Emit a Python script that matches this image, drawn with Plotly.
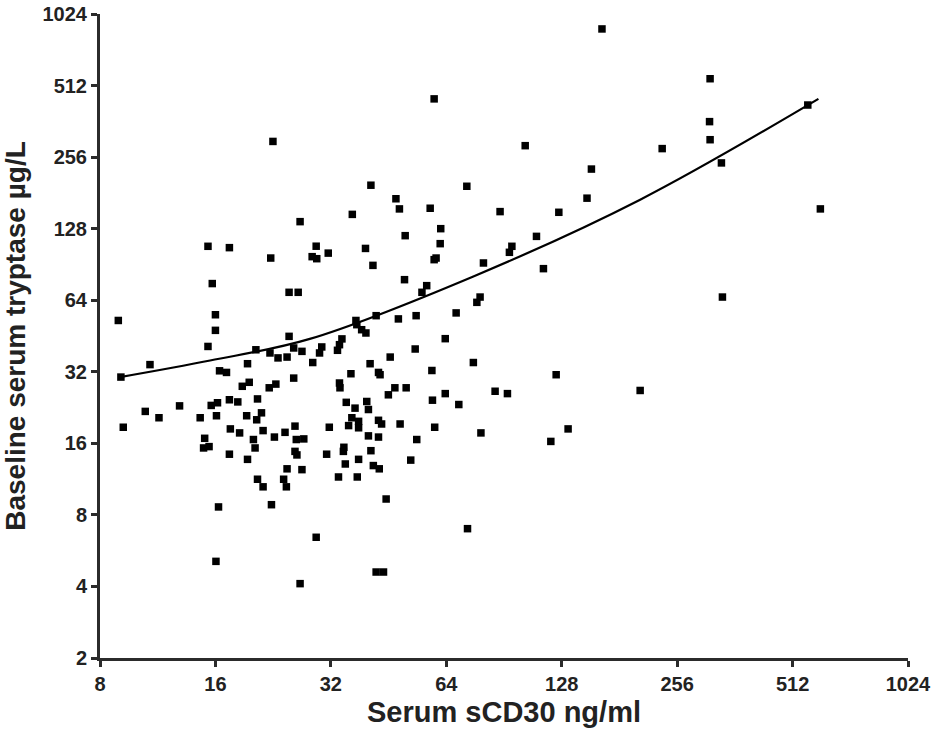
import plotly.graph_objects as go

# Serum sCD30 (ng/ml) values
scd30 = [8.93, 9.07, 10.8, 9.2, 10.5, 11.4, 12.9, 14.6, 15.0, 14.9, 15.4, 15.3, 15.3, 15.7, 16.0, 16.0,
         17.4, 16.4, 17.1, 15.6, 16.2, 16.1, 17.4, 18.3, 17.5, 18.5, 17.4, 19.4, 19.3, 18.8, 19.6, 19.4,
         20.4, 20.6, 21.1, 20.5, 21.3, 20.1, 20.3, 20.6, 21.3, 22.3, 22.2, 23.0, 22.1, 22.8, 24.3, 24.9,
         25.6, 26.9, 23.3, 24.6, 25.6, 24.9, 26.3, 25.8, 26.0, 27.2, 25.8, 26.1, 24.6, 26.9, 24.1, 24.5,
         28.6, 29.4, 29.3, 22.6, 26.6, 16.3, 16.05, 22.4, 26.6, 29.3, 44.6, 72.7, 42.0, 43.9, 33.5, 37.5,
         163, 59.5, 102.8, 153, 149, 40.7, 72.4, 47.3, 48.3, 58.1, 88.4, 125.8, 36.4, 61.9, 50.0, 110,
         39.4, 61.7, 94.9, 93.5, 31.5, 41.2, 59.5, 60.2, 80.0, 114.7, 49.8, 56.9, 55.3, 78.4, 76.9, 67.9,
         63.6, 75.3, 53.4, 48.0, 42.0, 37.2, 37.4, 38.5, 39.5, 34.2, 33.7, 33.3, 30.3, 29.9, 28.7, 45.7,
         53.1, 40.5, 42.6, 43.0, 36.1, 58.7, 33.7, 33.8, 47.0, 50.3, 45.2, 63.6, 58.9, 69.0, 85.8, 92.4,
         123.8, 35.1, 37.0, 39.7, 40.1, 36.3, 35.6, 37.8, 37.8, 42.6, 43.4, 31.7, 48.5, 59.7, 78.8, 133,
         119.9, 40.1, 42.6, 53.6, 34.6, 34.5, 31.2, 40.7, 37.8, 34.9, 41.3, 42.8, 51.7, 312, 311, 312,
         234, 334, 561, 605, 336, 205]

# Baseline serum tryptase (µg/L) values
tryptase = [52.6, 30.4, 34.3, 18.7, 21.8, 20.5, 23.0, 20.5, 16.8, 15.3, 15.5, 40.9, 107.9, 75.2, 55.6, 47.8,
            106.5, 32.3, 31.8, 23.1, 23.7, 20.9, 24.4, 23.9, 18.4, 17.7, 14.4, 13.7, 20.9, 27.8, 28.9, 34.6,
            39.6, 24.6, 21.5, 20.1, 18.1, 16.6, 15.3, 11.3, 10.5, 96.3, 38.4, 28.4, 27.4, 17.0, 17.8, 45.1,
            40.3, 39.0, 36.6, 36.9, 30.1, 69.1, 69.1, 18.9, 16.6, 16.7, 14.8, 14.3, 12.5, 12.4, 11.3, 10.5,
            97.6, 95.7, 108, 298, 137, 8.64, 5.10, 8.83, 4.11, 6.44, 9.33, 7.0, 4.60, 4.60, 11.55, 11.55,
            886, 450, 286, 228, 172, 195, 193, 171, 155, 156, 151, 150, 147, 128, 119.6, 118.8,
            105.7, 110.7, 107.9, 101.8, 101, 89.7, 94.8, 96.3, 91.8, 86.9, 78.1, 73.7, 69.1, 66.0, 62.7, 56.6,
            44.1, 35.0, 55.1, 53.4, 55.1, 52.6, 50.5, 48.1, 46.6, 44.0, 41.6, 39.4, 40.7, 38.4, 35.0, 36.9,
            39.9, 34.6, 31.8, 31.1, 31.4, 32.4, 28.7, 27.4, 27.4, 27.4, 25.6, 25.9, 24.3, 23.3, 26.5, 25.9,
            31.1, 23.8, 22.5, 24.0, 22.2, 20.5, 19.0, 19.8, 18.6, 20.0, 19.3, 18.7, 19.3, 18.7, 17.7, 18.4,
            16.3, 17.2, 17.0, 16.6, 15.4, 14.8, 14.4, 14.9, 13.7, 13.1, 12.9, 12.5, 13.6, 547, 361, 303,
            278, 242, 424, 155, 66.0, 26.7]

# Fitted curve, points
fit_x = [9.02, 15.5, 28.2, 75.3, 205, 598]
fit_y = [30.4, 35.7, 44.0, 80.6, 169.5, 450]

x_ticks = [8, 16, 32, 64, 128, 256, 512, 1024]
y_ticks = [2, 4, 8, 16, 32, 64, 128, 256, 512, 1024]

fig = go.Figure()
fig.add_trace(go.Scatter(
    x=scd30, y=tryptase, mode="markers",
    marker=dict(symbol="square", size=7.5, color="#000000"),
    cliponaxis=False, showlegend=False))
fig.add_trace(go.Scatter(
    x=fit_x, y=fit_y, mode="lines", line=dict(color="#000000", width=2.2, shape="spline", smoothing=1.0),
    showlegend=False))

font_fam = "Liberation Sans, Arial, sans-serif"
axis_common = dict(
    type="log", showgrid=False, zeroline=False, showline=True, linecolor="#2b2b2b", linewidth=3,
    ticks="outside", ticklen=6, tickwidth=2.5, tickcolor="#2b2b2b", ticklabeloverflow="allow",
    tickfont=dict(family=font_fam, size=20, color="#222222", weight="bold"),
)
fig.update_xaxes(**axis_common, range=[0.90309, 3.0103], tickvals=x_ticks,
                 ticktext=[str(v) for v in x_ticks],
                 title=dict(text="Serum sCD30 ng/ml", standoff=8,
                            font=dict(family=font_fam, size=29, color="#222222", weight="bold")))
fig.update_yaxes(**axis_common, range=[0.30103, 3.0103], tickvals=y_ticks,
                 ticktext=[str(v) for v in y_ticks],
                 title=dict(text="Baseline serum tryptase µg/L", standoff=14,
                            font=dict(family=font_fam, size=28, color="#222222", weight="bold")))
fig.update_layout(
    width=931, height=733, plot_bgcolor="white", paper_bgcolor="white",
    margin=dict(l=100, r=23, t=14, b=75, autoexpand=False),
)
fig.write_html(
    "out.html",
    config={"displayModeBar": False},
    post_script="document.body.style.margin='0';document.body.style.overflow='hidden';",
)
